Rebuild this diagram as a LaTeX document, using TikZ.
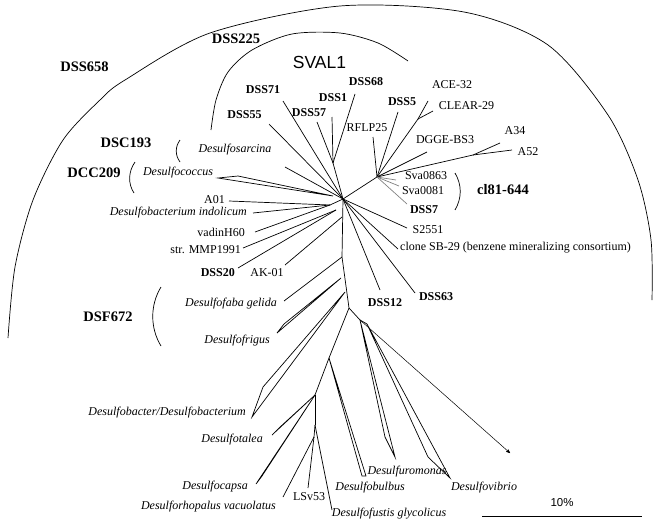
\documentclass[tikz,border=0pt]{standalone}
\usepackage{fontspec}
\setmainfont{Liberation Serif}
\newfontfamily\helv{Liberation Sans}
\usetikzlibrary{arrows,positioning}

\begin{document}
\begin{tikzpicture}[x=1pt,y=-1pt,>=stealth',
    lab/.style={inner sep=0pt,font=\fontsize{12}{14}\selectfont},
    ilab/.style={inner sep=0pt,font=\fontsize{12}{14}\selectfont\itshape},
    blab/.style={inner sep=0pt,font=\fontsize{12}{14}\selectfont\bfseries},
    glab/.style={inner sep=0pt,font=\fontsize{14.5}{16}\selectfont\bfseries},
    br/.style={line width=0.7pt},
    gbr/.style={line width=0.7pt,draw=gray}]

                \useasboundingbox (0,0) rectangle (655,522);

                \coordinate (H) at (343,199);

                \coordinate (J1) at (333,163);
                \coordinate (tDSS57) at (317,122);
                \coordinate (tDSS1) at (332,117);
                \coordinate (tDSS68) at (355,94);
                \coordinate (tDSS71) at (283,101);
                \coordinate (tDSS55) at (269,124);
                \coordinate (tSarc) at (285,167);
                \coordinate (Jcoc) at (333,196);
                \coordinate (tCocA) at (218,178);
                \coordinate (tCocB) at (238,176);

                \coordinate (J2) at (377,177);
                \coordinate (tRFLP) at (373,137);
                \coordinate (tDSS5) at (398,112);
                \coordinate (Jac) at (418,119);
                \coordinate (tACE) at (428,101);
                \coordinate (tCLEAR) at (433,111);
                \coordinate (tDGGE) at (427,152);
                \coordinate (Ja) at (473,155);
                \coordinate (tA34) at (500,143);
                \coordinate (tA52) at (512,150);
                \coordinate (tSvaA) at (396,180);
                \coordinate (tSvaB) at (399,186);
                \coordinate (tDSS7) at (407,204);

                \coordinate (tS2551) at (407,228);
                \coordinate (tSB29) at (398,249);
                \coordinate (tDSS12) at (380,290);
                \coordinate (tDSS63) at (415,293);

                \coordinate (J3) at (330,205);
                \coordinate (tA01) at (229,201);
                \coordinate (tIndo) at (253,213);
                \coordinate (tVadin) at (255,232);
                \coordinate (J4) at (336,210);
                \coordinate (tMMP) at (243,248);
                \coordinate (tDSS20) at (238,268);
                \coordinate (T0) at (342,217);
                \coordinate (tAK) at (285,265);

                \coordinate (T1) at (342,257);
                \coordinate (tGel) at (284,301);
                \coordinate (T2) at (341,278);
                \coordinate (tFriA) at (277,333);
                \coordinate (tFriB) at (284,324);
                \coordinate (T3) at (345,292);
                \coordinate (tBacA) at (252,417);
                \coordinate (tBacB) at (263,387);

                \coordinate (J5) at (349,308);
                \coordinate (J6) at (329,358);
                \coordinate (J7) at (315,395);
                \coordinate (J8) at (315,425);
                \coordinate (J9) at (314,437);
                \coordinate (tTalA) at (272,435);
                \coordinate (tTalB) at (279,428);
                \coordinate (tCapA) at (256,484);
                \coordinate (tCapB) at (262,476);
                \coordinate (tRhop) at (283,497);
                \coordinate (tLSv) at (308,488);
                \coordinate (tFust) at (332,510);
                \coordinate (tBulA) at (362,476);
                \coordinate (tBulB) at (366,476);

                \coordinate (J10) at (360,320);
                \coordinate (tRomA) at (385,437);
                \coordinate (tRomB) at (395,457);
                \coordinate (J11) at (367,324);
                \coordinate (tVibA) at (428,457);
                \coordinate (tVibB) at (450,478);
                \coordinate (tArr) at (510,453);

                \path[br] (H) edge (J1) edge (tDSS71) edge (tDSS55) edge (tSarc)
                              edge (J2) edge (tS2551) edge (tSB29) edge (tDSS12) edge (tDSS63)
                              edge (J3) edge (T1)
                          (J1) edge (tDSS57) edge (tDSS1) edge (tDSS68)
                          (J2) edge (tRFLP) edge (tDSS5) edge (Jac) edge (tDGGE) edge (Ja)
                          (Jac) edge (tACE) edge (tCLEAR)
                          (Ja) edge (tA34) edge (tA52)
                          (J3) edge (tA01) edge (tIndo) edge (tVadin)
                          (J4) edge (tMMP) edge (tDSS20)
                          (T0) edge (tAK)
                          (T1) edge (tGel) edge (J5)
                          (J5) edge (J6) edge (J10)
                          (J6) edge (J7)
                          (J7) edge (J8)
                          (J8) edge (J9) edge (tFust)
                          (J9) edge (tRhop) edge (tLSv)
                          (J10) edge (J11);
                \path[gbr] (J2) edge (tSvaA) edge (tSvaB) edge (tDSS7);

                \draw[br] (Jcoc) -- (tCocA) -- (tCocB) -- cycle;
                \draw[br] (T2) -- (tFriA) -- (tFriB) -- cycle;
                \draw[br] (T3) -- (tBacA) -- (tBacB) -- cycle;
                \draw[br] (J7) -- (tTalA) -- (tTalB) -- cycle;
                \draw[br] (J7) -- (tCapA) -- (tCapB) -- cycle;
                \draw[br] (J6) -- (tBulA) -- (tBulB) -- cycle;
                \draw[br] (J10) -- (tRomA) -- (tRomB) -- cycle;
                \draw[br] (J11) -- (tVibA) -- (tVibB) -- cycle;
                \draw[->,line width=0.5pt] (J10) -- (tArr);

                \draw[br] plot[smooth] coordinates {(8,338) (15,267) (33,200) (63,140) (100,100) (125,80)
                    (210,33) (340,6) (464,12) (548,45) (608,115) (638,180) (651,240) (652,300)};
                \draw[br] plot[smooth] coordinates {(211,130) (216,100) (228,72) (252,50) (292,34)
                    (340,33) (378,43) (408,61)};
                \draw[br] (180,140) .. controls (175,147) and (175,155) .. (180,162);
                \draw[br] (135,162) .. controls (128,172) and (128,184) .. (134,193);
                \draw[br] (161,287) .. controls (150,305) and (150,328) .. (161,346);
                \draw[br] (455,173) .. controls (462,185) and (462,198) .. (455,210);

                \node[glab] (DSS658) at (84.5,67) {DSS658};
                \node[glab] (DSS225) at (236,39) {DSS225};
                \node[inner sep=0pt,font=\helv\fontsize{17.5}{20}\selectfont] (SVAL1) at (319.5,62) {SVAL1};
                \node[glab] (DSC193) at (126,143) {DSC193};
                \node[glab] (DCC209) at (94,173) {DCC209};
                \node[glab] (DSF672) at (108,317) {DSF672};
                \node[glab] (cl81) at (503,190) {cl81-644};

                \node[blab] (DSS71) at (263,90) {DSS71};
                \node[blab] (DSS55) at (244.5,115) {DSS55};
                \node[blab] (DSS57) at (309,113) {DSS57};
                \node[blab] (DSS1) at (333,98) {DSS1};
                \node[blab] (DSS68) at (366,82) {DSS68};
                \node[blab] (DSS5) at (402,102) {DSS5};
                \node[blab] (DSS7) at (424,210) {DSS7};
                \node[blab,anchor=east] (DSS20) at (235,273) {DSS20};
                \node[blab] (DSS12) at (385,303) {DSS12};
                \node[blab] (DSS63) at (436,297) {DSS63};

                \node[lab] (ACE32) at (452,85) {ACE-32};
                \node[lab] (CLEAR29) at (466.5,106) {CLEAR-29};
                \node[lab] (RFLP25) at (367,128) {RFLP25};
                \node[lab] (DGGE) at (445,140) {DGGE-BS3};
                \node[lab] (A34) at (515,131) {A34};
                \node[lab] (A52) at (528,152) {A52};
                \node[lab] (Sva0863) at (426,176) {Sva0863};
                \node[lab] (Sva0081) at (423,191) {Sva0081};
                \node[lab] (S2551) at (428,230) {S2551};
                \node[lab,anchor=west] (SB29) at (400,248) {clone SB-29 (benzene mineralizing consortium)};
                \node[lab,anchor=east] (A01) at (225,200) {A01};
                \node[lab,anchor=east] (vadin) at (245,232) {vadinH60};
                \node[lab,anchor=east] (MMP) at (241,250) {str. MMP1991};
                \node[lab] (AK01) at (267,273) {AK-01};
                \node[lab] (LSv53) at (309,497) {LSv53};

                \node[ilab] (sarc) at (235,150) {Desulfosarcina};
                \node[ilab] (coc) at (178,173) {Desulfococcus};
                \node[ilab,anchor=east] (indo) at (247,213) {Desulfobacterium indolicum};
                \node[ilab,anchor=east] (gel) at (277,304) {Desulfofaba gelida};
                \node[ilab,anchor=east] (fri) at (270,341) {Desulfofrigus};
                \node[ilab,anchor=east] (bac) at (246,413) {Desulfobacter/Desulfobacterium};
                \node[ilab,anchor=east] (tal) at (263,440) {Desulfotalea};
                \node[ilab,anchor=east] (cap) at (248,487) {Desulfocapsa};
                \node[ilab,anchor=east] (rhop) at (276,507) {Desulforhopalus vacuolatus};
                \node[ilab] (bul) at (370,488) {Desulfobulbus};
                \node[ilab] (fust) at (389,514) {Desulfofustis glycolicus};
                \node[ilab] (rom) at (407,472) {Desulfuromonas};
                \node[ilab] (vib) at (484,488) {Desulfovibrio};

                \node[inner sep=0pt,font=\helv\fontsize{11.5}{13}\selectfont] (pct) at (562,503) {10\%};
                \coordinate (barL) at (482,516);
                \coordinate (barR) at (642,516);
                \draw[br] (barL) -- (barR);

            \end{tikzpicture}
\end{document}
